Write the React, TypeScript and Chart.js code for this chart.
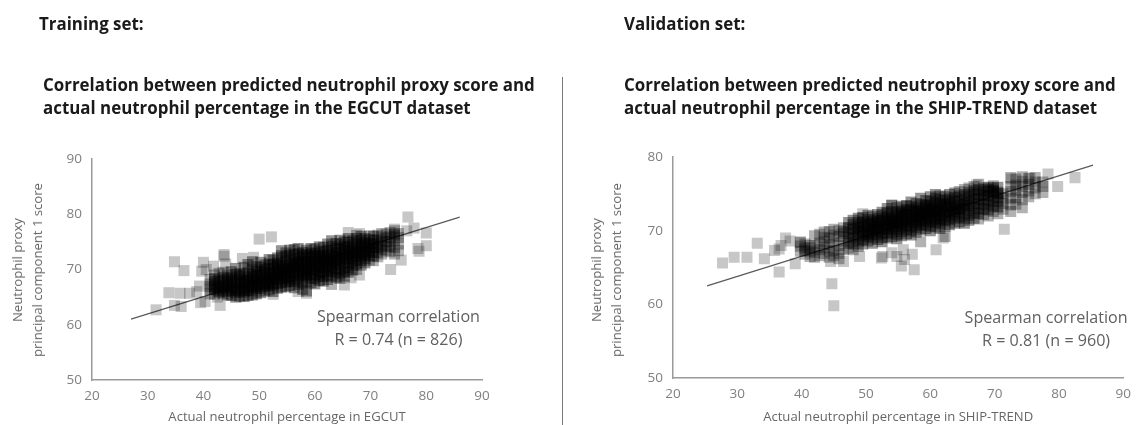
import React, { useEffect, useRef } from "react";
import { Chart, registerables } from "chart.js";

Chart.register(...registerables);

const FONT = '"Open Sans", "Noto Sans", sans-serif';
const xTicks = [20, 30, 40, 50, 60, 70, 80, 90];
const yTicks = [50, 60, 70, 80, 90];

// Each row: x value followed by the y values read at that x
const egcutColumns: number[][] = [
  [42.0, 66.4, 67.2, 68.4, 66.8, 67.8],
  [42.8, 65.9, 66.7, 67.5, 68.1, 66.1, 67.0],
  [43.5, 65.6, 66.3, 67.1, 67.9, 68.6, 66.8],
  [44.3, 66.0, 66.8, 67.6, 68.3, 65.4, 67.2, 69.0],
  [45.0, 65.3, 66.2, 67.0, 67.7, 68.5, 69.6, 66.6, 68.0],
  [45.8, 65.0, 65.8, 66.6, 67.4, 68.2, 69.1, 70.2, 66.2],
  [46.5, 65.2, 66.0, 66.9, 67.6, 68.4, 69.3, 67.2, 68.8],
  [47.3, 65.1, 65.9, 66.5, 67.3, 68.1, 69.0, 70.4, 67.8, 66.2],
  [48.0, 65.3, 66.2, 67.1, 67.8, 68.6, 69.4, 70.9, 66.7, 68.2],
  [48.8, 65.4, 66.1, 66.8, 67.5, 68.3, 69.1, 70.1, 67.1, 68.7, 71.4],
  [49.5, 65.6, 66.5, 67.2, 68.0, 68.8, 69.6, 70.5, 66.9, 67.7, 69.2],
  [50.3, 65.8, 66.6, 67.3, 68.1, 68.9, 69.7, 70.4, 67.6, 68.5, 71.3],
  [51.0, 66.1, 66.9, 67.6, 68.4, 69.2, 70.0, 70.8, 67.2, 68.0, 69.5],
  [51.8, 66.3, 67.0, 67.8, 68.6, 69.3, 70.2, 71.0, 68.2, 69.0, 67.4, 71.8],
  [52.5, 66.0, 67.2, 68.0, 68.7, 69.4, 70.1, 70.9, 71.7, 68.4, 69.8, 67.5],
  [53.3, 66.6, 67.4, 68.2, 68.9, 69.7, 70.4, 71.2, 72.1, 68.6, 69.2, 70.8],
  [54.0, 66.8, 67.6, 68.3, 69.1, 69.9, 70.6, 71.4, 72.5, 68.7, 69.5, 70.2, 73.4],
  [54.8, 66.9, 67.7, 68.5, 69.2, 70.0, 70.7, 71.5, 72.3, 69.6, 68.9, 70.3, 73.0],
  [55.5, 67.1, 67.9, 68.7, 69.4, 70.1, 70.9, 71.7, 72.6, 69.8, 70.4, 68.3, 73.5],
  [56.3, 66.7, 67.8, 68.6, 69.5, 70.3, 71.0, 71.8, 72.7, 69.0, 70.6, 71.3, 73.6],
  [57.0, 67.3, 68.1, 68.9, 69.7, 70.4, 71.2, 72.0, 72.9, 69.3, 70.8, 71.5, 73.8],
  [57.8, 66.4, 67.6, 68.4, 69.2, 70.0, 70.7, 71.5, 72.3, 73.1, 69.6, 71.0, 72.6],
  [58.5, 66.1, 67.9, 68.8, 69.6, 70.3, 71.1, 71.9, 72.7, 73.5, 70.0, 71.4, 69.1],
  [59.3, 67.6, 68.4, 69.2, 70.0, 70.7, 71.4, 72.2, 73.0, 73.8, 69.7, 71.0, 72.5],
  [60.0, 67.4, 68.3, 69.1, 69.9, 70.6, 71.3, 72.1, 72.9, 73.7, 70.3, 71.6, 72.4],
  [60.8, 68.0, 68.8, 69.6, 70.3, 71.0, 71.8, 72.5, 73.3, 74.1, 70.6, 72.0, 69.3],
  [61.5, 67.9, 68.7, 69.5, 70.2, 71.0, 71.7, 72.5, 73.2, 74.0, 70.7, 72.1, 71.3],
  [62.3, 68.2, 69.0, 69.8, 70.5, 71.2, 72.0, 72.7, 73.5, 74.6, 71.5, 70.1, 72.3],
  [63.0, 68.8, 69.6, 70.4, 71.1, 71.9, 72.6, 73.4, 74.2, 75.2, 71.6, 70.7],
  [63.8, 68.6, 69.4, 70.2, 71.0, 71.7, 72.4, 73.1, 73.9, 74.7, 71.3, 72.8],
  [64.5, 68.4, 69.2, 70.0, 70.8, 71.6, 72.3, 73.0, 73.8, 74.6, 75.3, 72.0],
  [65.3, 68.8, 69.6, 70.4, 71.2, 71.9, 72.7, 73.4, 74.2, 75.0, 72.2, 73.7],
  [66.0, 69.5, 70.3, 71.1, 71.9, 72.6, 73.3, 74.1, 74.9, 75.6, 72.9],
  [66.8, 69.9, 70.7, 71.5, 72.3, 73.0, 73.7, 74.5, 75.2, 72.0, 73.4],
  [67.5, 71.0, 71.8, 72.5, 73.3, 74.0, 74.8, 75.6, 73.0],
  [68.3, 70.8, 71.6, 72.4, 73.1, 73.8, 74.5, 75.3, 76.0, 72.8, 74.2],
  [69.0, 71.2, 72.0, 72.7, 73.4, 74.2, 74.9, 75.6, 73.0, 74.5],
  [69.8, 72.5, 73.2, 73.9, 74.7, 75.4, 73.5],
  [70.5, 72.4, 73.1, 73.9, 74.6, 75.3, 76.0, 74.2],
];
const egcutFringeColumns: number[][] = [
  [41.2, 66.3, 67.4, 65.6, 68.2, 66.9],
  [42.0, 65.5, 69.0],
  [42.8, 69.3],
  [43.5, 69.5],
  [63.0, 67.3],
  [67.5, 70.0, 76.2],
  [69.8, 71.7, 76.1],
  [70.5, 71.6],
  [71.3, 72.3, 73.1, 73.9, 74.6, 75.4, 76.2, 74.1],
  [72.0, 72.8, 73.6, 74.4, 75.1, 75.9, 76.5],
  [72.8, 73.4, 74.2, 75.0, 75.7, 76.4],
  [73.5, 73.2, 74.1, 75.1, 75.9, 76.7],
  [74.3, 72.8, 74.0, 75.2, 76.1, 77.0, 76.4],
  [75.0, 73.4, 74.6, 75.8, 76.5],
];
const egcutOutlierX = [31.5, 33.8, 35.8, 34.8, 36, 37.5, 38.8, 39.3, 39.5, 40.3, 34.8, 36.5, 39.7, 40, 40.5, 41.8, 43, 42.5, 43.7, 43.7, 44, 50, 52.2, 47, 49, 66, 68, 76.7, 77.8, 80, 80, 78.5, 78.7, 73.6, 75.5, 76.5, 74.3, 65.3, 66.5, 68, 58.5, 57, 52.5];
const egcutOutlierY = [62.7, 65.8, 65.7, 63.5, 63.3, 65.7, 66, 67, 64, 64.2, 71.4, 69.8, 69.7, 71.3, 70, 70.6, 63.5, 65, 72.7, 72.4, 71, 75.5, 75.9, 72, 72.2, 76.7, 76.5, 79.5, 77.5, 76.6, 74.3, 73.8, 73.3, 70, 71.7, 77, 77.3, 67.2, 68.5, 69, 65.7, 66, 65.5];
const egcutLineX = [27, 86];
const egcutLineY = [61, 79.5];

const shipColumns: number[][] = [
  [47.3, 68.3, 69.0, 69.7, 70.4, 71.1],
  [48.0, 68.2, 69.0, 69.6, 70.2, 70.8, 71.4],
  [48.8, 67.9, 68.6, 69.3, 69.9, 70.5, 71.1, 71.7, 70.3],
  [49.5, 68.2, 68.8, 69.4, 70.0, 70.6, 71.2, 71.8, 69.7, 70.9],
  [50.3, 68.6, 69.2, 69.8, 70.3, 70.9, 71.5, 72.1, 70.6, 69.5],
  [51.0, 68.3, 69.0, 69.6, 70.2, 70.8, 71.3, 71.9, 70.5, 69.9, 71.1],
  [51.8, 68.8, 69.4, 69.9, 70.5, 71.0, 71.6, 72.2, 70.7, 70.2, 71.3],
  [52.5, 68.5, 69.1, 69.7, 70.3, 70.8, 71.4, 72.0, 72.5, 70.1, 71.1],
  [53.3, 69.0, 69.6, 70.2, 70.7, 71.3, 71.8, 72.4, 73.0, 70.5, 71.5, 71.0],
  [54.0, 69.2, 69.8, 70.3, 70.9, 71.4, 72.0, 72.6, 73.4, 70.6, 71.7, 71.2],
  [54.8, 68.9, 69.5, 70.2, 70.8, 71.4, 72.0, 72.5, 73.1, 70.5, 71.1, 71.7],
  [55.5, 69.3, 69.9, 70.5, 71.0, 71.6, 72.1, 72.7, 73.3, 70.8, 71.9, 72.4],
  [56.3, 69.6, 70.2, 70.7, 71.3, 71.8, 72.3, 72.9, 73.4, 71.1, 72.1, 72.6],
  [57.0, 69.4, 70.0, 70.6, 71.1, 71.7, 72.2, 72.8, 73.3, 73.9, 71.4, 72.5],
  [57.8, 69.8, 70.4, 70.9, 71.5, 72.0, 72.6, 73.1, 73.7, 71.2, 72.3, 72.8, 71.8],
  [58.5, 70.1, 70.7, 71.2, 71.8, 72.3, 72.9, 73.5, 74.4, 71.5, 72.6, 72.1],
  [59.3, 70.3, 70.8, 71.4, 71.9, 72.5, 73.0, 73.5, 74.1, 71.7, 72.2, 72.8, 73.3],
  [60.0, 70.0, 70.6, 71.2, 71.8, 72.3, 72.9, 73.4, 74.0, 74.6, 71.5, 72.6, 73.1],
  [60.8, 70.5, 71.1, 71.6, 72.2, 72.7, 73.3, 73.8, 74.4, 74.9, 71.9, 73.0, 72.5],
  [61.5, 70.3, 70.9, 71.5, 72.0, 72.6, 73.1, 73.7, 74.2, 74.7, 71.7, 72.8, 73.4],
  [62.3, 70.6, 71.3, 71.9, 72.5, 73.0, 73.6, 74.1, 74.6, 72.2, 73.3],
  [63.0, 70.8, 71.5, 72.1, 72.7, 73.2, 73.8, 74.3, 74.9, 72.4, 73.5],
  [63.8, 71.0, 71.7, 72.3, 72.9, 73.4, 74.0, 74.5, 75.1, 73.1, 72.6],
  [64.5, 71.2, 71.9, 72.5, 73.0, 73.6, 74.1, 74.7, 72.8],
  [65.3, 71.0, 71.7, 72.4, 73.1, 73.7, 74.3, 74.9, 73.4],
  [66.0, 71.4, 72.1, 72.8, 73.4, 74.0, 74.6, 75.2],
  [66.8, 71.7, 72.4, 73.1, 73.7, 74.3, 74.9, 75.4],
  [67.5, 72.3, 73.0, 73.7, 74.4, 75.0, 75.6],
  [68.3, 72.9, 73.6, 74.2, 74.8, 75.3, 75.8],
  [69.0, 72.8, 73.5, 74.2, 74.8, 75.4, 75.9, 75.6],
  [69.8, 73.3, 74.0, 74.7, 75.3, 75.8, 75.5],
  [70.5, 73.2, 73.9, 74.5, 75.2, 75.9, 75.0],
];
const shipFringeColumns: number[][] = [
  [39.8, 67.2, 67.9, 68.4],
  [40.5, 66.8, 67.6, 68.2, 67.3],
  [41.3, 66.5, 67.2, 68.0, 67.7],
  [42.0, 66.4, 67.0, 67.9, 69.3],
  [42.8, 66.6, 67.4, 68.3, 69.5],
  [43.5, 66.9, 67.7, 68.5, 69.8, 69.1],
  [44.3, 66.4, 67.2, 68.1, 69.0, 69.9],
  [45.0, 66.6, 67.3, 68.4, 69.4, 70.2],
  [45.8, 66.2, 66.9, 68.0, 69.2, 70.0],
  [46.5, 67.4, 68.6, 69.6, 70.4, 69.9],
  [47.3, 67.6],
  [48.0, 67.4],
  [58.5, 68.5],
  [62.3, 69.2],
  [64.5, 75.3],
  [65.3, 75.6],
  [66.0, 75.8],
  [66.8, 76.0],
  [67.5, 71.6, 76.3],
  [68.3, 72.2],
  [69.0, 72.0],
  [69.8, 72.6, 76.1],
  [70.5, 72.3],
  [71.3, 72.9, 73.7, 74.4, 75.0],
  [72.5, 72.6, 73.5, 74.4, 75.3, 77.2, 76.0],
  [73.3, 73.6, 74.5, 75.5, 76.2, 77.0],
  [74.3, 73.1, 74.2, 75.2, 76.0, 76.7, 77.3],
  [75.3, 74.6, 75.4, 76.3, 77.1],
  [76.3, 75.0, 75.8, 76.6, 77.2],
  [77.5, 75.2, 76.0, 76.6],
];
const shipOutlierX = [27.7, 29.5, 31.5, 33.1, 34.2, 35.8, 36.5, 36.5, 37.5, 39, 36.8, 39.8, 38.2, 44.5, 44.7, 45, 46.5, 49, 52.4, 52.6, 54, 54.8, 55.5, 55.8, 57.2, 57.5, 56, 60.9, 62, 71.5, 78.3, 79.8, 82.5, 54, 49.5, 67.2, 72.6, 75.5];
const shipOutlierY = [65.6, 66.4, 66.4, 68.3, 66.2, 67.3, 64.4, 67.5, 69, 65.5, 68, 68.5, 68.6, 65.8, 62.8, 59.8, 65.8, 66.5, 66.3, 66.5, 67, 66.5, 65.2, 67.4, 66.8, 64.7, 66.1, 67.4, 69, 70.2, 77.7, 76, 77.2, 73.5, 72.3, 76.2, 77, 77.1];
const shipLineX = [25.3, 85.3];
const shipLineY = [62.5, 78.9];

const egcutNote = ["Spearman correlation", "R = 0.74 (n = 826)"];
const shipNote = ["Spearman correlation", "R = 0.81 (n = 960)"];
const yTitle = ["Neutrophil proxy", "principal component 1 score"];

function flatten(columns: number[][]) {
  const pts: { x: number; y: number }[] = [];
  columns.forEach(([x, ...ys]) => ys.forEach((y) => pts.push({ x, y })));
  return pts;
}
const zip = (xs: number[], ys: number[]) => xs.map((x, i) => ({ x, y: ys[i] }));

interface PanelProps {
  columns: number[][];
  fringe: number[][];
  outX: number[];
  outY: number[];
  lineX: number[];
  lineY: number[];
  yMax: number;
  note: string[];
  noteX: number;
  noteY: number[];
  xLabel: string;
  left: number;
  width: number;
  axisLeft: number;
  axisRight: number;
  axisTop: number;
  axisBottom: number;
}

const markers = (data: { x: number; y: number }[], alpha: number, order: number) => ({
  data,
  pointStyle: "rect",
  pointRadius: 7.8,
  pointBorderWidth: 0,
  backgroundColor: `rgba(0,0,0,${alpha})`,
  order,
});

function Panel(p: PanelProps) {
  const ref = useRef<HTMLCanvasElement>(null);
  useEffect(() => {
    const notePlugin = {
      id: "note",
      afterDatasetsDraw(chart: any) {
        const { ctx, scales } = chart;
        ctx.save();
        ctx.font = `16.1px ${FONT}`;
        ctx.fillStyle = "#606060";
        ctx.textAlign = "center";
        ctx.textBaseline = "middle";
        p.note.forEach((t, i) => ctx.fillText(t, scales.x.getPixelForValue(p.noteX), scales.y.getPixelForValue(p.noteY[i])));
        ctx.restore();
      },
    };
    const H = 425;
    const chart = new Chart(ref.current!, {
      type: "scatter",
      data: {
        datasets: [
          {
            data: zip(p.lineX, p.lineY),
            showLine: true,
            pointRadius: 0,
            borderColor: "#5a5a5a",
            borderWidth: 1.3,
            order: 4,
          },
          markers(flatten(p.columns), 0.42, 1),
          markers(flatten(p.fringe), 0.3, 2),
          markers(zip(p.outX, p.outY), 0.22, 3),
        ],
      },
      plugins: [notePlugin],
      options: {
        responsive: false,
        animation: false,
        layout: { padding: { top: p.axisTop, right: p.width - p.axisRight, left: 0, bottom: 0 } },
        plugins: { legend: { display: false }, tooltip: { enabled: false } },
        scales: {
          x: {
            type: "linear",
            min: 20,
            max: 90,
            afterBuildTicks: (s: any) => { s.ticks = xTicks.map((value) => ({ value })); },
            afterFit: (s: any) => { s.height = H - p.axisBottom; },
            grid: { drawOnChartArea: false, drawTicks: false },
            border: { color: "#9a9a9a", width: 1.5 },
            ticks: { color: "#808080", font: { family: FONT, size: 13.5 }, padding: 8, maxRotation: 0 },
            title: { display: true, text: p.xLabel, color: "#666666", font: { family: FONT, size: 13.1 }, padding: { top: 1, bottom: 0 } },
          },
          y: {
            type: "linear",
            min: 50,
            max: p.yMax,
            afterBuildTicks: (s: any) => { s.ticks = yTicks.filter((v) => v <= p.yMax).map((value) => ({ value })); },
            afterFit: (s: any) => { s.width = p.axisLeft; },
            grid: { drawOnChartArea: false, drawTicks: false },
            border: { color: "#9a9a9a", width: 1.5 },
            ticks: { color: "#808080", font: { family: FONT, size: 13.5 }, padding: 10 },
            title: { display: false },
          },
        },
      },
    } as any);
    return () => chart.destroy();
  }, []);
  return <canvas ref={ref} width={p.width} height={425} style={{ position: "absolute", left: p.left, top: 0, display: "block" }} />;
}

const textStyle = (left: number, top: number, size: number, color: string, weight = 700): React.CSSProperties => ({
  position: "absolute",
  left,
  top,
  fontFamily: FONT,
  fontSize: size,
  lineHeight: "23px",
  fontWeight: weight,
  color,
  whiteSpace: "nowrap",
});

function YLabel({ x, lines }: { x: number; lines: string[] }) {
  return (
    <div
      style={{
        position: "absolute",
        left: x,
        top: 270,
        transform: "translate(-50%,-50%) rotate(-90deg)",
        fontFamily: FONT,
        fontSize: 13.1,
        lineHeight: "20px",
        color: "#666666",
        textAlign: "center",
        whiteSpace: "nowrap",
      }}
    >
      {lines.map((l) => (
        <div key={l}>{l}</div>
      ))}
    </div>
  );
}

export default function App() {
  return (
    <div style={{ position: "absolute", left: 0, top: 0, width: 1139, height: 425, background: "#fff", overflow: "hidden", filter: "blur(0.45px)" }}>
      <Panel columns={egcutColumns} fringe={egcutFringeColumns} outX={egcutOutlierX} outY={egcutOutlierY} lineX={egcutLineX} lineY={egcutLineY} yMax={90} note={egcutNote} noteX={75} noteY={[61.4, 57.2]} xLabel="Actual neutrophil percentage in EGCUT" left={0} width={510} axisLeft={92} axisRight={482} axisTop={159} axisBottom={380} />
      <Panel columns={shipColumns} fringe={shipFringeColumns} outX={shipOutlierX} outY={shipOutlierY} lineX={shipLineX} lineY={shipLineY} yMax={80} note={shipNote} noteX={78} noteY={[58.1, 55]} xLabel="Actual neutrophil percentage in SHIP-TREND" left={580} width={559} axisLeft={93} axisRight={551} axisTop={157} axisBottom={378} />
      <YLabel x={27} lines={yTitle} />
      <YLabel x={606} lines={yTitle} />
      <div style={textStyle(39, 12, 16.9, "#1a1a1a")}>Training set:</div>
      <div style={textStyle(624, 12, 16.9, "#1a1a1a")}>Validation set:</div>
      <div style={textStyle(43, 73, 16.9, "#1a1a1a")}>
        Correlation between predicted neutrophil proxy score and
        <br />
        actual neutrophil percentage in the EGCUT dataset
      </div>
      <div style={textStyle(624, 73, 16.9, "#1a1a1a")}>
        Correlation between predicted neutrophil proxy score and
        <br />
        actual neutrophil percentage in the SHIP-TREND dataset
      </div>
      <div style={{ position: "absolute", left: 562, top: 77, width: 1.3, height: 348, background: "#777" }} />
    </div>
  );
}
